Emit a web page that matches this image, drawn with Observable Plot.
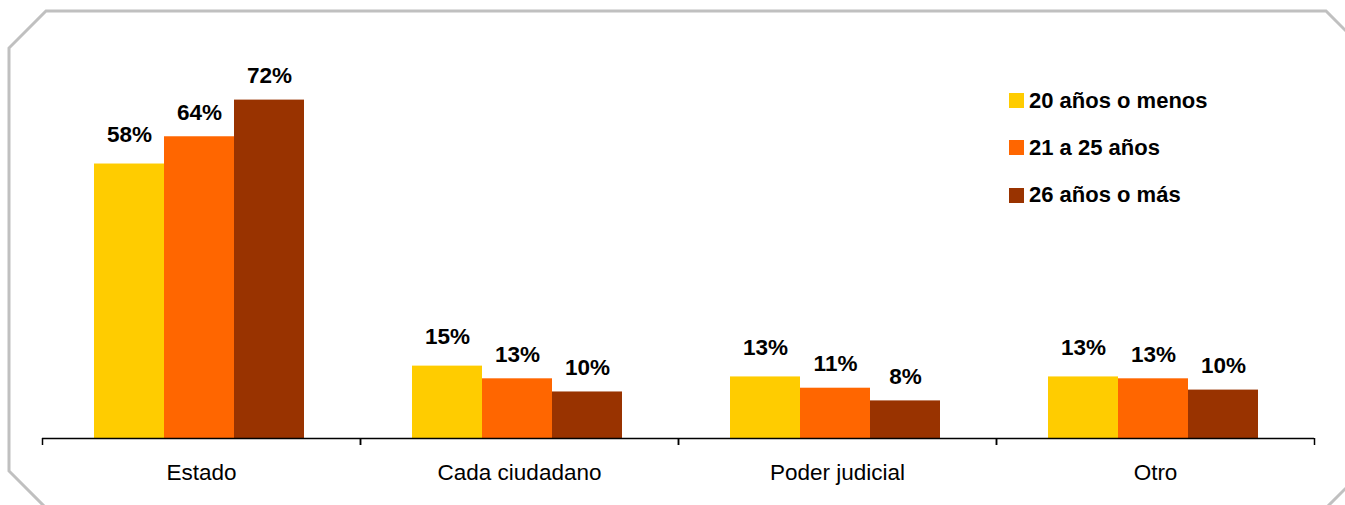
<!DOCTYPE html>
<html>
<head>
<meta charset="utf-8">
<script src="https://cdn.jsdelivr.net/npm/d3@7"></script>
<script src="https://cdn.jsdelivr.net/npm/@observablehq/plot@0.6"></script>
<style>
  html, body { margin: 0; padding: 0; background: #fff; }
  #wrap { position: relative; width: 1345px; height: 505px; overflow: hidden; font-family: "Liberation Sans", Arial, sans-serif; }
  #frame { position: absolute; left: 0; top: 0; pointer-events: none; }
  #chart { position: absolute; left: 0; top: 0; }
  #legend { position: absolute; left: 1009px; top: 77px; }
  .row { display: flex; align-items: center; height: 47.3px; }
  .sw { width: 15px; height: 15px; margin-right: 5px; }
  .lb { font-size: 22px; font-weight: bold; color: #000; white-space: nowrap; }
</style>
</head>
<body>
<div id="wrap">
  <div id="chart"></div>
  <svg id="frame" width="1345" height="505">
    <polygon points="46,11 1326,11 1363,48 1363,471 1326,508 46,508 9,471 9,48" fill="none" stroke="#C0C0C0" stroke-width="3"/>
  </svg>
  <div id="legend"></div>
</div>
<script>
const categories = ["Estado", "Cada ciudadano", "Poder judicial", "Otro"];
const series = ["20 años o menos", "21 a 25 años", "26 años o más"];
const values20 = [58.4, 15.4, 13.1, 13.1];
const values21 = [64.2, 12.7, 10.7, 12.7];
const values26 = [72.0, 9.9, 8.0, 10.3];
const colors = ["#FFCC00", "#FF6600", "#993300"];

const seriesValues = [values20, values21, values26];
const rows = [];
categories.forEach((c, i) => {
  series.forEach((s, j) => {
    rows.push({category: c, series: s, value: seriesValues[j][i]});
  });
});
const fmt = d => Math.round(d.value) + "%";

const chart = Plot.plot({
  width: 1345,
  height: 505,
  marginLeft: 42,
  marginRight: 31,
  marginTop: 62,
  marginBottom: 67,
  style: {fontFamily: "'Liberation Sans', Arial, sans-serif", background: "transparent", color: "#000"},
  fx: {domain: categories, padding: 0, label: null},
  x: {domain: series, paddingInner: 0, paddingOuter: 0.755, align: 0.48, axis: null},
  y: {domain: [0, 80], axis: null},
  color: {domain: series, range: colors},
  marks: [
    Plot.barY(rows, {fx: "category", x: "series", y: "value", fill: "series"}),
    Plot.text(rows.filter(d => d.series === series[0]), {
      fx: "category", x: "series", y: "value", text: fmt,
      dy: -29, fontSize: 22.5, fontWeight: "bold", fill: "#000", lineAnchor: "middle"
    }),
    Plot.text(rows.filter(d => d.series !== series[0]), {
      fx: "category", x: "series", y: "value", text: fmt,
      dy: -24, fontSize: 22.5, fontWeight: "bold", fill: "#000", lineAnchor: "middle"
    }),
    Plot.ruleY([0], {stroke: "#000", strokeWidth: 1.5}),
    Plot.axisFx({anchor: "bottom", tickSize: 0, tickPadding: 26, fontSize: 22.5, label: null}),
    Plot.axisFx({anchor: "bottom", tickSize: 7, tickFormat: () => "", dx: -159, label: null, strokeWidth: 1.5}),
    Plot.axisFx({anchor: "bottom", tickSize: 7, tickFormat: () => "", dx: 159, label: null, strokeWidth: 1.5})
  ]
});
document.getElementById("chart").appendChild(chart);

const legend = document.getElementById("legend");
series.forEach((s, j) => {
  const row = document.createElement("div");
  row.className = "row";
  const sw = document.createElement("div");
  sw.className = "sw";
  sw.style.background = colors[j];
  const lb = document.createElement("span");
  lb.className = "lb";
  lb.textContent = s;
  row.appendChild(sw);
  row.appendChild(lb);
  legend.appendChild(row);
});
</script>
</body>
</html>
